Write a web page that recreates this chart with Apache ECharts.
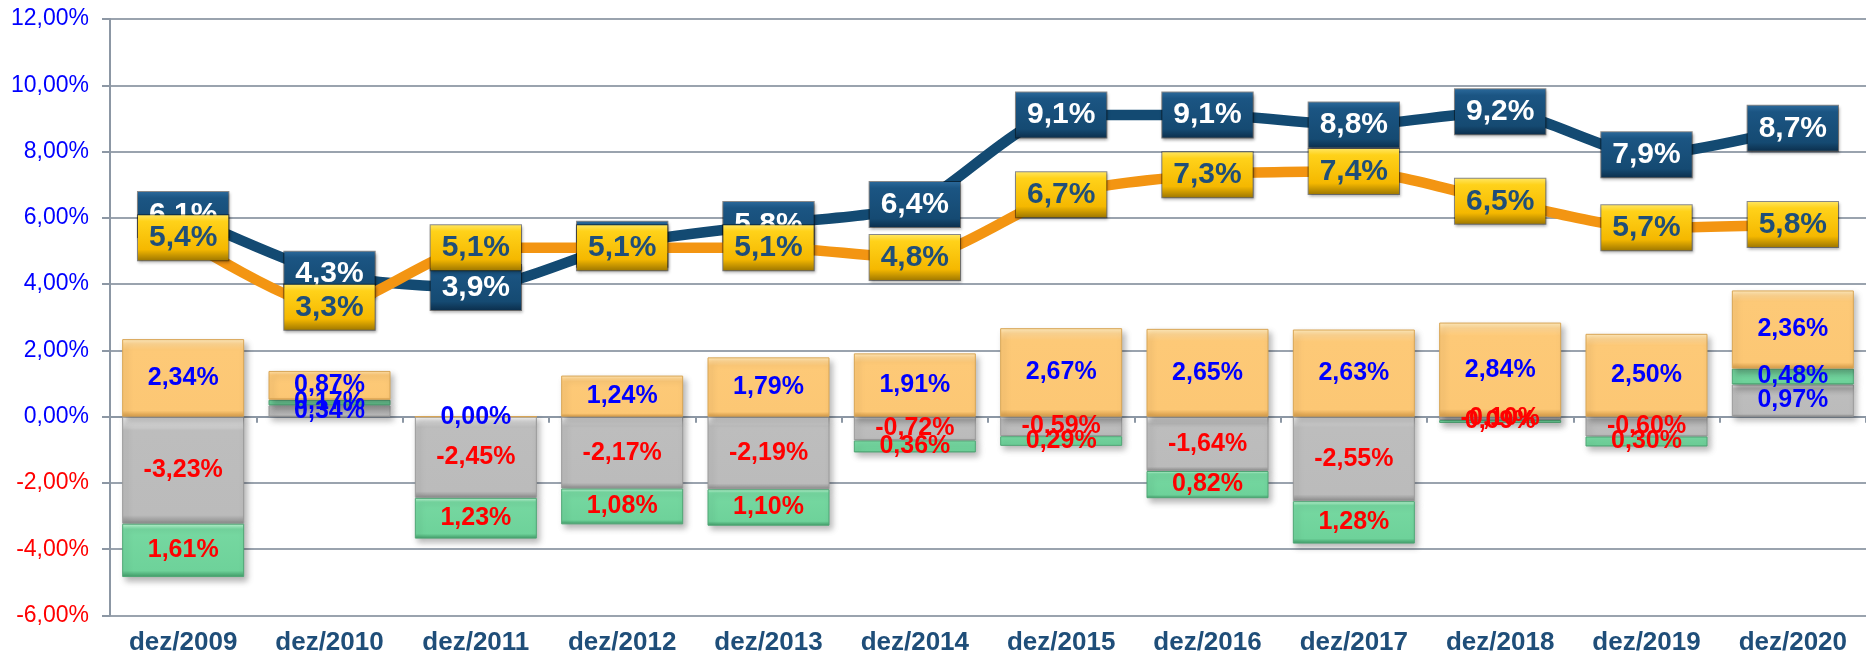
<!DOCTYPE html>
<html>
<head>
<meta charset="utf-8">
<script src="https://cdn.jsdelivr.net/npm/echarts@6/dist/echarts.min.js"></script>
<style>
  html, body { margin: 0; padding: 0; background: #fff; }
  #chart { width: 1866px; height: 659px; }
</style>
</head>
<body>
<div id="chart"></div>
<script>
var categories = ['dez/2009', 'dez/2010', 'dez/2011', 'dez/2012', 'dez/2013', 'dez/2014',
  'dez/2015', 'dez/2016', 'dez/2017', 'dez/2018', 'dez/2019', 'dez/2020'];

// barras empilhadas (cinza, verde, laranja)
var grayValues = [-3.23, 0.34, -2.45, -2.17, -2.19, -0.72, -0.59, -1.64, -2.55, -0.10, -0.60, 0.97];
var greenValues = [-1.61, 0.17, -1.23, -1.08, -1.10, -0.36, -0.29, -0.82, -1.28, -0.09, -0.30, 0.48];
var orangeValues = [2.34, 0.87, 0.00, 1.24, 1.79, 1.91, 2.67, 2.65, 2.63, 2.84, 2.50, 2.36];

// linhas
var navyLine = [6.1, 4.3, 3.9, 5.2, 5.8, 6.4, 9.1, 9.1, 8.8, 9.2, 7.9, 8.7];
var goldLine = [5.4, 3.3, 5.1, 5.1, 5.1, 4.8, 6.7, 7.3, 7.4, 6.5, 5.7, 5.8];

var FONT = '"Liberation Sans", Arial, sans-serif';
var BLUE = '#0000ff';
var RED = '#ff0000';

function pct(v, d) {
  return v.toFixed(d).replace('.', ',') + '%';
}

function vgrad(stops) {
  return new echarts.graphic.LinearGradient(0, 0, 0, 1, stops.map(function (s) {
    return { offset: s[0], color: s[1] };
  }));
}

function barItems(values) {
  return values.map(function (v) {
    return { value: v, label: { color: v < 0 ? RED : BLUE } };
  });
}

function barSeries(name, values, fill, edge, absLabel, strategy) {
  return {
    name: name,
    type: 'bar',
    stack: 'total',
    stackStrategy: strategy,
    xAxisIndex: 0,
    barWidth: 122,
    z: 2,
    data: barItems(values),
    itemStyle: {
      color: fill,
      borderColor: edge,
      borderWidth: 1,
      shadowBlur: 6,
      shadowOffsetX: 3,
      shadowOffsetY: 4,
      shadowColor: 'rgba(0,0,0,0.28)'
    },
    label: {
      show: true,
      position: 'inside',
      fontFamily: FONT,
      fontWeight: 'bold',
      fontSize: 25,
      formatter: function (p) {
        return pct(absLabel ? Math.abs(p.value) : p.value, 2);
      }
    }
  };
}

function lineSeries(name, values, lineColor, boxFill, textColor, z) {
  return {
    name: name,
    type: 'line',
    xAxisIndex: 0,
    data: values,
    smooth: 0.25,
    z: z,
    symbol: 'rect',
    symbolSize: 1,
    itemStyle: { color: lineColor },
    lineStyle: { color: lineColor, width: 10.5 },
    label: {
      show: true,
      position: 'inside',
      fontFamily: FONT,
      fontWeight: 'bold',
      fontSize: 30,
      lineHeight: 31,
      color: textColor,
      padding: [7, 11],
      backgroundColor: boxFill,
      borderColor: 'rgba(0,0,0,0.45)',
      borderWidth: 1,
      shadowBlur: 3,
      shadowOffsetX: 1,
      shadowOffsetY: 2,
      shadowColor: 'rgba(0,0,0,0.35)',
      formatter: function (p) {
        return pct(p.value, 1);
      }
    }
  };
}

var chart = echarts.init(document.getElementById('chart'));

var option = {
  animation: false,
  backgroundColor: '#ffffff',
  grid: { left: 110, top: 19, width: 1766, bottom: 43.5 },
  xAxis: [
    {
      type: 'category',
      data: categories,
      position: 'bottom',
      axisLine: { show: false, onZero: false },
      axisTick: { show: false },
      axisLabel: {
        margin: 14,
        fontFamily: FONT,
        fontWeight: 'bold',
        fontSize: 26,
        color: '#1f4e79'
      }
    },
    {
      type: 'category',
      data: categories,
      position: 'top',
      axisLine: { show: true, onZero: true, lineStyle: { color: '#8c97a4', width: 2 } },
      axisTick: { show: true, inside: true, length: 6, lineStyle: { color: '#8c97a4', width: 2 } },
      axisLabel: { show: false }
    }
  ],
  yAxis: {
    type: 'value',
    min: -6,
    max: 12,
    interval: 2,
    axisLine: { show: true, lineStyle: { color: '#8c97a4', width: 2 } },
    axisTick: { show: true, length: 8, lineStyle: { color: '#8c97a4', width: 2 } },
    splitLine: { lineStyle: { color: '#9aa3ae', width: 2 } },
    axisLabel: {
      margin: 21,
      fontFamily: FONT,
      fontSize: 23,
      color: function (v) {
        return Number(v) < 0 ? RED : BLUE;
      },
      formatter: function (v) {
        return pct(v, 2);
      }
    }
  },
  series: [
    barSeries('cinza', grayValues,
      vgrad([[0, '#ffffff'], [0.06, '#dadada'], [0.13, '#bdbdbd'], [0.92, '#bbbbbb'], [1, '#8a8a8a']]),
      '#9a9a9a', false, 'samesign'),
    barSeries('verde', greenValues,
      vgrad([[0, '#bff4d3'], [0.1, '#76d8a1'], [0.88, '#6ed29a'], [1, '#3f9a66']]),
      '#4fa675', true, 'samesign'),
    barSeries('laranja', orangeValues,
      vgrad([[0, '#ffebbd'], [0.06, '#ffd693'], [0.14, '#fdc977'], [0.92, '#fcc774'], [1, '#d49a48']]),
      '#d8a555', false, 'positive'),
    lineSeries('navy', navyLine, '#134a72',
      vgrad([[0, '#2c6a9c'], [0.15, '#1b5583'], [0.8, '#154a72'], [1, '#0b2d4a']]), '#ffffff', 5),
    lineSeries('gold', goldLine, '#f39512',
      vgrad([[0, '#ffe766'], [0.15, '#ffd21a'], [0.75, '#f5b800'], [1, '#9a7400']]), '#1f4e79', 6)
  ]
};

chart.setOption(option);
</script>
</body>
</html>
